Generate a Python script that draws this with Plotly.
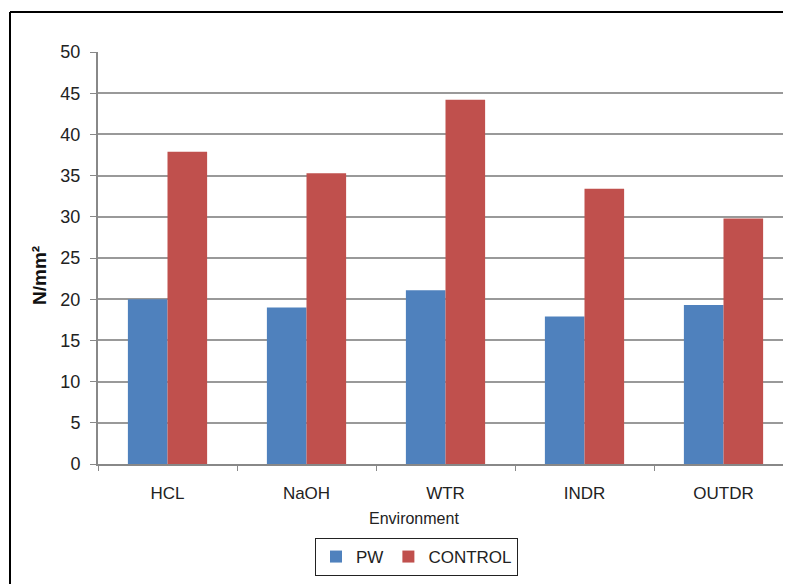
import plotly.graph_objects as go

categories = ["HCL", "NaOH", "WTR", "INDR", "OUTDR"]
pw = [20.0, 19.0, 21.1, 17.9, 19.3]
control = [37.9, 35.3, 44.2, 33.4, 29.8]
y_ticks = [0, 5, 10, 15, 20, 25, 30, 35, 40, 45, 50]

OFF = 8  # page body margin
W, H = 791 - OFF, 584 - OFF
L, R, T, B = 98 - OFF, 0, 52 - OFF, 120
pw_w = W - L - R
ph = H - T - B

def px(x):  # page pixel -> paper
    return (x - OFF - L) / pw_w

def py(y):
    return (H - B - (y - OFF)) / ph

FONT = "Liberation Sans Narrow, Liberation Sans, Arial"

fig = go.Figure()
fig.add_trace(go.Bar(x=categories, y=pw, name="PW", marker=dict(color="#4F81BD", line=dict(width=0))))
fig.add_trace(go.Bar(x=categories, y=control, name="CONTROL", marker=dict(color="#C0504D", line=dict(width=0))))

fig.update_layout(
    width=W, height=H,
    margin=dict(l=L, r=R, t=T, b=B),
    paper_bgcolor="white", plot_bgcolor="white",
    barmode="group", bargap=0.43, bargroupgap=0,
    font=dict(family=FONT, color="#222", size=15),
    showlegend=True,
    legend=dict(orientation="h", x=px(315), y=py(538), xanchor="left", yanchor="top",
                bordercolor="#222", borderwidth=1, font=dict(size=17, family=FONT),
                itemwidth=30, traceorder="normal"),
    xaxis=dict(range=[-0.5, -0.5 + pw_w / 139.0], tickson="boundaries", ticks="outside",
               ticklen=5, tickcolor="#888", showline=True, linecolor="#888", linewidth=2,
               showgrid=False, tickfont=dict(size=17, family=FONT), ticklabelstandoff=13),
    yaxis=dict(range=[0, 50], tickvals=y_ticks, ticks="outside", ticklen=6, tickcolor="#888",
               showline=True, linecolor="#888", linewidth=2, showgrid=True, gridcolor="#999",
               gridwidth=1.5, zeroline=False, tickfont=dict(size=18, family=FONT),
               ticklabelstandoff=6),
    annotations=[
        dict(text="Environment", xref="paper", yref="paper", x=px(414), y=py(518),
             xanchor="center", yanchor="middle", showarrow=False,
             font=dict(size=16, family=FONT, color="#222")),
        dict(text="<b>N/mm²</b>", xref="paper", yref="paper", x=px(39), y=py(276),
             xanchor="center", yanchor="middle", showarrow=False, textangle=-90,
             font=dict(size=19, family="Liberation Sans, Arial", color="#111")),
    ],
    shapes=[
        dict(type="line", xref="paper", yref="paper", x0=px(10), x1=px(10), y0=py(600), y1=py(12),
             line=dict(color="black", width=2)),
        dict(type="line", xref="paper", yref="paper", x0=px(10), x1=px(800), y0=py(12), y1=py(12),
             line=dict(color="black", width=2)),
    ],
)

fig.write_html("out.html")
